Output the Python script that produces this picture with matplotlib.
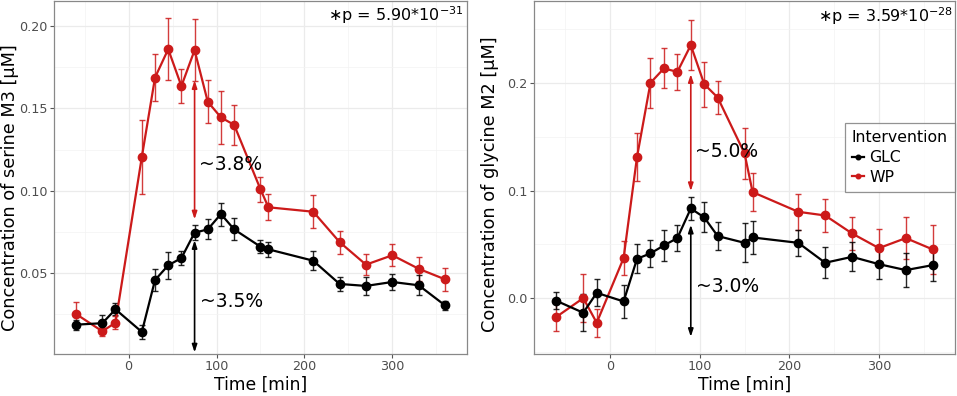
import numpy as np
import matplotlib.pyplot as plt
from matplotlib.ticker import MultipleLocator

# time points [min]
time = [-60, -30, -15, 15, 30, 45, 60, 75, 90, 105, 120, 150, 159, 210, 240, 270, 300, 330, 360]

# serine M3 (left panel)
ser_wp = [0.0253, 0.0148, 0.0200, 0.1206, 0.1687, 0.1859, 0.1635, 0.1853, 0.1540, 0.1445,
          0.1400, 0.1009, 0.0900, 0.0873, 0.0689, 0.0552, 0.0609, 0.0527, 0.0463]
ser_wp_err = [0.007, 0.003, 0.004, 0.0225, 0.014, 0.019, 0.0105, 0.019, 0.013, 0.016,
              0.012, 0.0075, 0.008, 0.010, 0.007, 0.0065, 0.0067, 0.0073, 0.0071]
ser_glc = [0.0188, 0.0197, 0.0281, 0.0144, 0.0459, 0.0548, 0.0592, 0.0746, 0.0766, 0.0859,
           0.0766, 0.0661, 0.0645, 0.0576, 0.0435, 0.0423, 0.0447, 0.0427, 0.0305]
ser_glc_err = [0.003, 0.005, 0.0036, 0.0045, 0.0065, 0.008, 0.0045, 0.0047, 0.006, 0.007,
               0.0067, 0.004, 0.0047, 0.0056, 0.004, 0.0055, 0.005, 0.006, 0.0025]

# glycine M2 (right panel)
gly_wp = [-0.0172, 0.0002, -0.0227, 0.0373, 0.1313, 0.2000, 0.2134, 0.2102, 0.2350, 0.1988,
          0.1864, 0.1345, 0.0986, 0.0803, 0.0769, 0.0602, 0.0466, 0.0559, 0.0454]
gly_wp_err = [0.013, 0.022, 0.013, 0.016, 0.0225, 0.023, 0.0185, 0.017, 0.0235, 0.021,
              0.0155, 0.024, 0.018, 0.0165, 0.0155, 0.015, 0.0176, 0.0195, 0.0225]
gly_glc = [-0.0023, -0.0134, 0.0051, -0.0029, 0.0367, 0.0417, 0.0491, 0.0559, 0.0834, 0.0751,
           0.0578, 0.0515, 0.0565, 0.0515, 0.0330, 0.0385, 0.0317, 0.0262, 0.0308]
gly_glc_err = [0.008, 0.017, 0.0124, 0.0152, 0.0136, 0.0126, 0.0142, 0.012, 0.011, 0.014,
               0.0133, 0.018, 0.0155, 0.012, 0.0142, 0.0136, 0.0136, 0.016, 0.0147]

red = '#CC1A1A'
black = '#000000'
arrow = '<|-|>,head_length=0.45,head_width=0.15'

fig = plt.figure(figsize=(9.57, 3.96), dpi=100)
ax1 = fig.add_axes([0.0564, 0.106, 0.4316, 0.891])
ax2 = fig.add_axes([0.558, 0.106, 0.440, 0.891])


def draw(ax, wp, wp_err, glc, glc_err):
    for y, e, c, lab in [(wp, wp_err, red, 'WP'), (glc, glc_err, black, 'GLC')]:
        ax.errorbar(time, y, yerr=e, fmt='none', ecolor=c, elinewidth=1.0, capsize=2,
                    capthick=1.0, alpha=0.85)
        ax.plot(time, y, color=c, lw=1.6, marker='o', ms=6, label=lab, zorder=3)
    ax.set_xlim(-85, 385)
    ax.xaxis.set_major_locator(MultipleLocator(100))
    ax.xaxis.set_minor_locator(MultipleLocator(50))
    ax.grid(which='major', color='#EBEBEB', lw=0.9, zorder=0)
    ax.grid(which='minor', color='#F3F3F3', lw=0.5, zorder=0)
    ax.set_axisbelow(True)
    for s in ax.spines.values():
        s.set_color('#888888')
        s.set_linewidth(0.9)
    ax.tick_params(which='major', length=3, pad=1.5, color='#555555', labelsize=9.2,
                   labelcolor='#4D4D4D')
    ax.tick_params(which='minor', length=0)
    ax.set_xlabel('Time [min]', fontsize=12.3, labelpad=1.5)


draw(ax1, ser_wp, ser_wp_err, ser_glc, ser_glc_err)
ax1.set_ylim(0.001, 0.215)
ax1.yaxis.set_minor_locator(MultipleLocator(0.025))
ax1.set_yticks([0.05, 0.10, 0.15, 0.20])
ax1.set_yticklabels(['0.05', '0.10', '0.15', '0.20'])
ax1.set_ylabel('Concentration of serine M3 [µM]', fontsize=12.8)
ax1.yaxis.set_label_coords(-0.085, 0.471)
ax1.annotate('', xy=(75, 0.167), xytext=(75, 0.0827),
             arrowprops=dict(arrowstyle=arrow, color=red, lw=1.2, shrinkA=0, shrinkB=0))
ax1.annotate('', xy=(75, 0.070), xytext=(75, 0.002),
             arrowprops=dict(arrowstyle=arrow, color=black, lw=1.2, shrinkA=0, shrinkB=0))
ax1.text(80, 0.1162, '~3.8%', fontsize=13.5, va='center', ha='left')
ax1.text(81, 0.033, '~3.5%', fontsize=13.5, va='center', ha='left')
ax1.text(381, 0.2065, '∗p = 5.90*10$^{-31}$', fontsize=11.5, ha='right', va='center')

draw(ax2, gly_wp, gly_wp_err, gly_glc, gly_glc_err)
ax2.set_ylim(-0.0517, 0.2758)
ax2.yaxis.set_minor_locator(MultipleLocator(0.05))
ax2.set_yticks([0.0, 0.1, 0.2])
ax2.set_yticklabels(['0.0', '0.1', '0.2'])
ax2.set_ylabel('Concentration of glycine M2 [µM]', fontsize=12.8)
ax2.yaxis.set_label_coords(-0.083, 0.482)
ax2.annotate('', xy=(90, 0.208), xytext=(90, 0.0996),
             arrowprops=dict(arrowstyle=arrow, color=red, lw=1.2, shrinkA=0, shrinkB=0))
ax2.annotate('', xy=(90, 0.0682), xytext=(90, -0.0357),
             arrowprops=dict(arrowstyle=arrow, color=black, lw=1.2, shrinkA=0, shrinkB=0))
ax2.text(95, 0.136, '~5.0%', fontsize=13.5, va='center', ha='left')
ax2.text(96, 0.0113, '~3.0%', fontsize=13.5, va='center', ha='left')
ax2.text(383, 0.262, '∗p = 3.59*10$^{-28}$', fontsize=11.5, ha='right', va='center')

h, l = ax2.get_legend_handles_labels()
order = [l.index('GLC'), l.index('WP')]
leg = ax2.legend([h[i] for i in order], [l[i] for i in order], title='Intervention',
                 loc='upper right', bbox_to_anchor=(1.0, 0.654), borderaxespad=0,
                 fontsize=11.3, title_fontsize=11.3, markerscale=0.55, handlelength=0.8,
                 handletextpad=0.3, borderpad=0.45, labelspacing=0.3, frameon=True,
                 fancybox=False, edgecolor='#777777')
leg.get_frame().set_linewidth(0.9)
leg._legend_box.align = 'left'

plt.savefig('out.png', dpi=100)
